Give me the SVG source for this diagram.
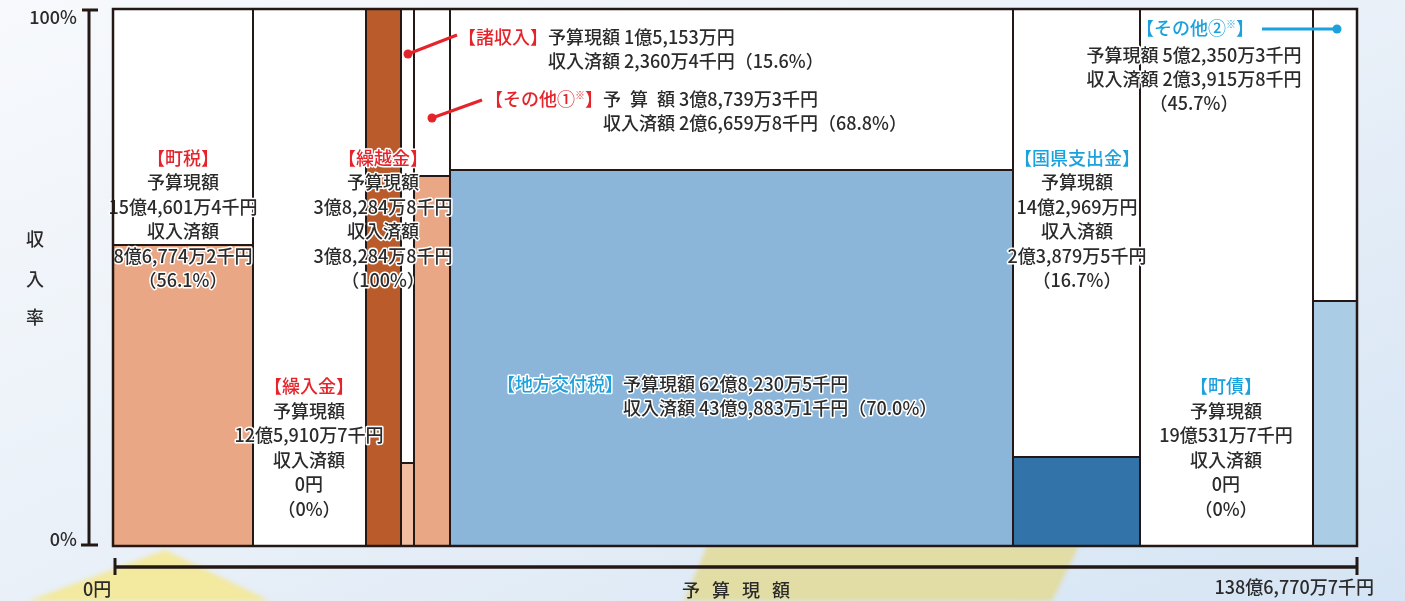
<svg xmlns="http://www.w3.org/2000/svg" width="1405" height="601" viewBox="0 0 1405 601">
<defs>
<linearGradient id="bg" x1="0" y1="0" x2="1" y2="1">
<stop offset="0" stop-color="#F7F9FC"/>
<stop offset="0.5" stop-color="#E9F0F8"/>
<stop offset="1" stop-color="#D5E4F4"/>
</linearGradient>
<filter id="soft" x="-10%" y="-10%" width="120%" height="120%"><feGaussianBlur stdDeviation="2"/></filter>
<style>
.t{font-family:"Noto Sans CJK JP","Noto Sans",sans-serif;font-size:18px;font-weight:500;fill:#2b2b2b;stroke:#fff;stroke-width:3px;paint-order:stroke;stroke-linejoin:round;}
.m{text-anchor:middle}
.e{text-anchor:end}
.red{fill:#E5232B}
.blue{fill:#1BA1DC}
.box{stroke:#231815;stroke-width:2}
.open{fill:none;stroke:none}
.ax{stroke:#231815;fill:none}
.ax-t{font-family:"Noto Sans CJK JP","Noto Sans",sans-serif;font-size:18px;font-weight:500;fill:#2b2b2b}
.sup{font-size:10px}
</style>
</defs>
<rect x="0" y="0" width="1405" height="601" fill="url(#bg)"/>
<g id="background-deco" filter="url(#soft)">
<polygon points="165,550 28,601 270,601" fill="#F5E88F" opacity="0.85"/>
<polygon points="707,546 1079,546 1052,601 684,601" fill="#E2DA9C" opacity="0.9"/>
</g>

<g id="axes">
<line class="ax" x1="89" y1="9" x2="89" y2="546" stroke-width="3"/>
<line class="ax" x1="82" y1="10" x2="98" y2="10" stroke-width="3"/>
<line class="ax" x1="81" y1="545" x2="98" y2="545" stroke-width="3"/>
<text class="ax-t e" x="77" y="24">100%</text>
<text class="ax-t e" x="77" y="546">0%</text>
<text class="ax-t m" x="35" y="246" font-size="17">収</text>
<text class="ax-t m" x="35" y="286" font-size="17">入</text>
<text class="ax-t m" x="35" y="324" font-size="17">率</text>
<line class="ax" x1="115" y1="567" x2="1357" y2="567" stroke-width="3.5"/>
<line class="ax" x1="115" y1="558" x2="115" y2="575" stroke-width="3"/>
<line class="ax" x1="1357" y1="557" x2="1357" y2="575" stroke-width="3"/>
<text class="ax-t" x="83" y="596" font-size="17">0円</text>
<text class="ax-t m" x="738" y="597" font-size="16" letter-spacing="4">予 算 現 額</text>
<text class="ax-t e" x="1374" y="594" font-size="17">138億6,770万7千円</text>
</g>

<g id="chart-area">
<rect x="113" y="9" width="1244" height="537" fill="#fff"/>
</g>

<g id="chihou-koufuzei">
<rect class="box" x="450" y="9" width="563" height="537" fill="#fff"/>
<rect class="box" x="450" y="170" width="563" height="376" fill="#8CB6D9"/>
<text class="t e blue" x="623" y="391">【地方交付税】</text>
<text class="t" x="623" y="391">予算現額 62億8,230万5千円</text>
<text class="t" x="623" y="415">収入済額 43億9,883万1千円（70.0%）</text>
</g>

<g id="shoshuunyuu">
<rect class="box" x="401" y="9" width="13" height="537" fill="#fff"/>
<rect class="box" x="401" y="463" width="13" height="83" fill="#F2BEA2"/>
<text class="t e red" x="548" y="43.5">【諸収入】</text>
<text class="t" x="548" y="43.5">予算現額 1億5,153万円</text>
<text class="t" x="548" y="68">収入済額 2,360万4千円（15.6%）</text>
</g>

<g id="sonota1">
<rect class="box" x="414" y="9" width="36" height="537" fill="#fff"/>
<rect class="box" x="414" y="176" width="36" height="370" fill="#E9A785"/>
<text class="t e red" x="603" y="106">【その他①<tspan class="sup" dy="-7">※</tspan><tspan dy="7">】</tspan></text>
<text class="t" y="106"><tspan x="603">予 </tspan><tspan x="630">算 </tspan><tspan x="657">額 3億8,739万3千円</tspan></text>
<text class="t" x="603" y="130">収入済額 2億6,659万8千円（68.8%）</text>
</g>

<g id="kurikoshi">
<rect class="box" x="366" y="9" width="35" height="537" fill="#B95B2B"/>
<text class="t m red" x="383" y="164.5">【繰越金】</text>
<text class="t m" x="383" y="189">予算現額</text>
<text class="t m" x="383" y="213.5">3億8,284万8千円</text>
<text class="t m" x="383" y="238">収入済額</text>
<text class="t m" x="383" y="262.5">3億8,284万8千円</text>
<text class="t m" x="383" y="287">（100%）</text>
</g>

<g id="chouzei">
<rect class="box" x="113" y="9" width="140" height="537" fill="#fff"/>
<rect class="box" x="113" y="245" width="140" height="301" fill="#E9A785"/>
<text class="t m red" x="183" y="164.5">【町税】</text>
<text class="t m" x="183" y="189">予算現額</text>
<text class="t m" x="183" y="213.5">15億4,601万4千円</text>
<text class="t m" x="183" y="238">収入済額</text>
<text class="t m" x="183" y="262.5">8億6,774万2千円</text>
<text class="t m" x="183" y="287">（56.1%）</text>
</g>

<g id="kuriire">
<rect class="open" x="253" y="9" width="113" height="537"/>
<text class="t m red" x="309" y="393">【繰入金】</text>
<text class="t m" x="309" y="417.5">予算現額</text>
<text class="t m" x="309" y="442">12億5,910万7千円</text>
<text class="t m" x="309" y="466.5">収入済額</text>
<text class="t m" x="309" y="491">0円</text>
<text class="t m" x="309" y="515.5">（0%）</text>
</g>

<g id="chousai">
<rect class="open" x="1140" y="9" width="173" height="537"/>
<text class="t m blue" x="1226" y="393">【町債】</text>
<text class="t m" x="1226" y="417.5">予算現額</text>
<text class="t m" x="1226" y="442">19億531万7千円</text>
<text class="t m" x="1226" y="466.5">収入済額</text>
<text class="t m" x="1226" y="491">0円</text>
<text class="t m" x="1226" y="515.5">（0%）</text>
</g>

<g id="kokken-shishutsukin">
<rect class="box" x="1013" y="9" width="127" height="537" fill="#fff"/>
<rect class="box" x="1013" y="457" width="127" height="89" fill="#3273A9"/>
<text class="t m blue" x="1077" y="164.5">【国県支出金】</text>
<text class="t m" x="1077" y="189">予算現額</text>
<text class="t m" x="1077" y="213.5">14億2,969万円</text>
<text class="t m" x="1077" y="238">収入済額</text>
<text class="t m" x="1077" y="262.5">2億3,879万5千円</text>
<text class="t m" x="1077" y="287">（16.7%）</text>
</g>

<g id="sonota2">
<rect class="box" x="1313" y="9" width="44" height="537" fill="#fff"/>
<rect class="box" x="1313" y="301" width="44" height="245" fill="#AACCE4"/>
<text class="t m blue" x="1195" y="35">【その他②<tspan class="sup" dy="-7">※</tspan><tspan dy="7">】</tspan></text>
<text class="t m" x="1194" y="61.5">予算現額 5億2,350万3千円</text>
<text class="t m" x="1194" y="86">収入済額 2億3,915万8千円</text>
<text class="t m" x="1194" y="109.5">（45.7%）</text>
</g>

<g id="frame">
<rect x="113" y="9" width="1244" height="537" fill="none" stroke="#231815" stroke-width="2.5"/>
</g>

<g id="connectors">
<line x1="457" y1="35" x2="408" y2="54" stroke="#E5232B" stroke-width="3"/>
<circle cx="408" cy="54" r="4.5" fill="#E5232B"/>
<line x1="482" y1="100" x2="432" y2="118" stroke="#E5232B" stroke-width="3"/>
<circle cx="432" cy="118" r="4.5" fill="#E5232B"/>
<line x1="1262" y1="29" x2="1337" y2="29" stroke="#1BA1DC" stroke-width="3"/>
<circle cx="1337" cy="29" r="4.5" fill="#1BA1DC"/>
</g>
</svg>
